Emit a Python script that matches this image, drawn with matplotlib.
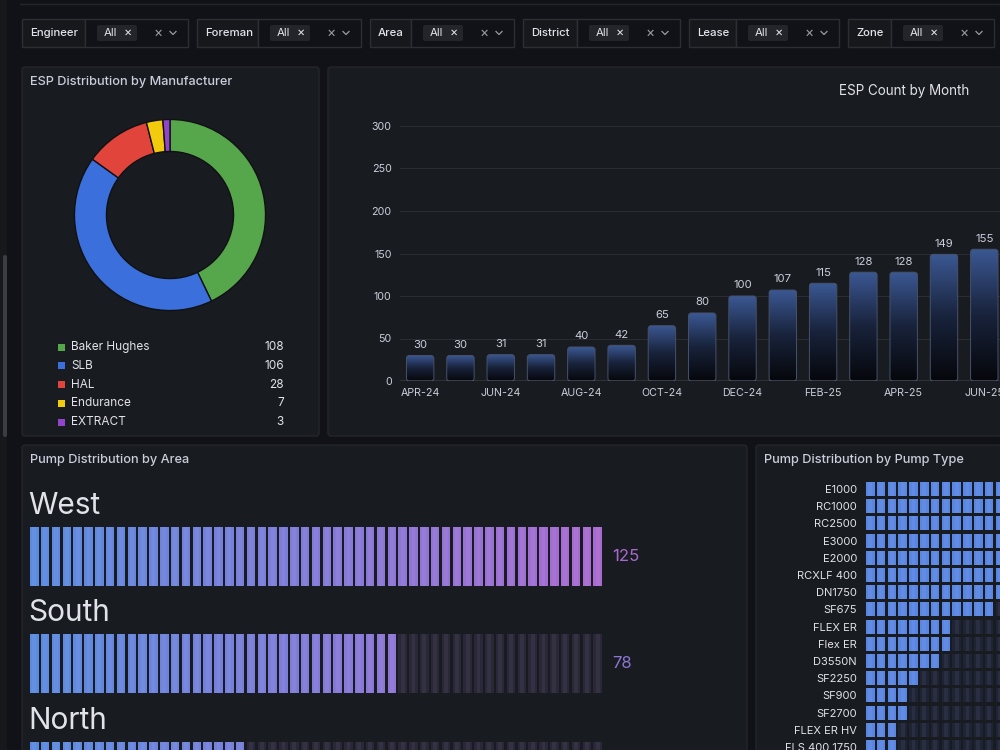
import numpy as np
import matplotlib
matplotlib.use("Agg")
import matplotlib.pyplot as plt
from matplotlib.patches import FancyBboxPatch, Rectangle
from matplotlib.colors import LinearSegmentedColormap

plt.rcParams['font.family'] = ['Inter', 'DejaVu Sans']

W, H = 1000, 750
BG = '#111217'
PANEL = '#181b1f'
BORDER = '#24262c'
TEXT = '#ccccdc'
BRIGHT = '#e2e2ea'

# ---- data ----
FILTERS = ['Engineer', 'Foreman', 'Area', 'District', 'Lease', 'Zone']
FILTER_VALUE = 'All'

MANUFACTURERS = ['Baker Hughes', 'SLB', 'HAL', 'Endurance', 'EXTRACT']
MANUF_COUNTS = [108, 106, 28, 7, 3]
MANUF_COLORS = ['#56a64b', '#3b6fdc', '#e0443b', '#f2cc0c', '#9345c9']

MONTHS = ['APR-24', 'MAY-24', 'JUN-24', 'JUL-24', 'AUG-24', 'SEP-24', 'OCT-24',
          'NOV-24', 'DEC-24', 'JAN-25', 'FEB-25', 'MAR-25', 'APR-25', 'MAY-25',
          'JUN-25']
ESP_COUNTS = [30, 30, 31, 31, 40, 42, 65, 80, 100, 107, 115, 128, 128, 149, 155]
Y_TICKS = [0, 50, 100, 150, 200, 250, 300]

AREAS = ['West', 'South', 'North']
AREA_COUNTS = [125, 78, 47]
AREA_MAX = 125
AREA_CELLS = 53

PUMP_TYPES = ['E1000', 'RC1000', 'RC2500', 'E3000', 'E2000', 'RCXLF 400',
              'DN1750', 'SF675', 'FLEX ER', 'Flex ER', 'D3550N', 'SF2250',
              'SF900', 'SF2700', 'FLEX ER HV', 'FLS 400 1750']
PUMP_COUNTS = [45, 38, 32, 28, 22, 18, 15, 12, 8, 8, 7, 5, 4, 4, 3, 3]


def rect(x0, y0, x1, y1):
    """pixel box (top-left origin) -> figure fraction box"""
    return [x0 / W, 1 - y1 / H, (x1 - x0) / W, (y1 - y0) / H]


fig = plt.figure(figsize=(10, 7.5), dpi=100, facecolor=BG)
bg = fig.add_axes([0, 0, 1, 1])
bg.set_xlim(0, W)
bg.set_ylim(H, 0)
bg.axis('off')

# left gutter + scrollbar, top rule
bg.add_patch(Rectangle((0, 0), 7, H, fc='#17181c', ec='none'))
bg.add_patch(FancyBboxPatch((3, 255), 4, 182, boxstyle='round,pad=0,rounding_size=2',
                            fc='#3c3d42', ec='none'))
bg.plot([20, W], [3.5, 3.5], color='#23252b', lw=1)


def panel(x0, y0, x1, y1, title=None):
    bg.add_patch(FancyBboxPatch((x0, y0), x1 - x0, y1 - y0,
                                boxstyle='round,pad=0,rounding_size=3',
                                fc=PANEL, ec=BORDER, lw=1))
    if title:
        bg.text(x0 + 8, y0 + 15, title, color=TEXT, fontsize=9.2,
                fontweight='medium', va='center')


# ---- filter bar ----
f_x = [22, 197, 370, 523, 689, 848]
f_lw = [63, 61, 41, 54, 47, 43]
f_vw = 103
for name, x0, lw_ in zip(FILTERS, f_x, f_lw):
    y0, y1 = 19, 47
    bg.add_patch(Rectangle((x0, y0), lw_, y1 - y0, fc='#16181c', ec='#2c2e34', lw=1))
    bg.add_patch(Rectangle((x0 + lw_, y0), f_vw, y1 - y0, fc=BG, ec='#2c2e34', lw=1))
    bg.text(x0 + 8, 33, name, color=BRIGHT, fontsize=8.2, fontweight='medium', va='center')
    cx = x0 + lw_ + 12
    bg.add_patch(FancyBboxPatch((cx, 25), 40, 16, boxstyle='round,pad=0,rounding_size=2',
                                fc='#23252b', ec='none'))
    bg.text(cx + 7, 33, FILTER_VALUE, color=BRIGHT, fontsize=8.2, va='center')
    bg.text(cx + 31, 33, '×', color=BRIGHT, fontsize=9, va='center', ha='center')
    xr = x0 + lw_ + f_vw
    bg.text(xr - 30, 33, '×', color='#9a9aa6', fontsize=10, va='center', ha='center')
    bg.plot([xr - 18, xr - 15, xr - 12], [31.5, 34.5, 31.5], color='#9a9aa6', lw=0.9)

# ---- panels ----
panel(22, 67, 319, 436, 'ESP Distribution by Manufacturer')
panel(328, 67, 1010, 436)
panel(22, 445, 747, 760, 'Pump Distribution by Area')
panel(756, 445, 1010, 760, 'Pump Distribution by Pump Type')

# ---- donut ----
ax_d = fig.add_axes(rect(73.5, 118.5, 266.5, 311.5))
ax_d.pie(MANUF_COUNTS, colors=MANUF_COLORS, startangle=90, counterclock=False,
         wedgeprops=dict(width=0.335, edgecolor='#101114', linewidth=1.0))
ax_d.set_xlim(-1.01, 1.01)
ax_d.set_ylim(-1.01, 1.01)
ax_d.set_aspect('equal')
ax_d.axis('off')

for i, (name, val, c) in enumerate(zip(MANUFACTURERS, MANUF_COUNTS, MANUF_COLORS)):
    y = 347 + i * 18.75
    bg.add_patch(Rectangle((58, y - 3.5), 7, 7, fc=c, ec='none'))
    bg.text(71, y, name, color=BRIGHT, fontsize=8.5, va='center')
    bg.text(284, y, str(val), color=BRIGHT, fontsize=8.5, va='center', ha='right')

# ---- ESP count by month ----
bg.text(904, 91, 'ESP Count by Month', color=BRIGHT, fontsize=9.7, ha='center', va='center')
ax_b = fig.add_axes(rect(400, 126, 1000, 381))
ax_b.set_facecolor('none')
x = np.arange(len(ESP_COUNTS))
bars = ax_b.bar(x, ESP_COUNTS, width=0.68, color='none')
grad = np.linspace(1, 0, 256).reshape(-1, 1)
bar_cmap = LinearSegmentedColormap.from_list('esp', ['#06070b', '#18223a', '#3b5893'])
for b in bars:
    x0, w, h = b.get_x(), b.get_width(), b.get_height()
    shape = FancyBboxPatch((x0, 0), w, h, boxstyle='round,pad=0,rounding_size=0.07',
                           mutation_aspect=47, fc='none', ec='#46516c', lw=0.7, zorder=4)
    ax_b.add_patch(shape)
    im = ax_b.imshow(grad, extent=[x0, x0 + w, 0, h], aspect='auto', cmap=bar_cmap,
                     vmin=0, vmax=1, zorder=3)
    im.set_clip_path(shape)
    b.set_visible(False)
    ax_b.annotate(str(int(h)), (x0 + w / 2, h), xytext=(0, 4), textcoords='offset points',
                  ha='center', va='bottom', color=TEXT, fontsize=8.2)
ax_b.set_xlim(-0.5, 14.39)
ax_b.set_ylim(0, 300)
ax_b.set_yticks(Y_TICKS)
ax_b.set_xticks(x[::2])
ax_b.set_xticklabels(MONTHS[::2])
ax_b.tick_params(colors=TEXT, labelsize=7.7, length=0)
ax_b.tick_params(axis='y', pad=6)
ax_b.tick_params(axis='x', pad=5)
for s in ax_b.spines.values():
    s.set_visible(False)
ax_b.grid(axis='y', color='#2a2c32', lw=0.8, zorder=0)
ax_b.set_axisbelow(True)
ax_b.axhline(0, color='#8e9099', lw=1, zorder=5)

# ---- pump distribution by area (bar gauge) ----
area_cmap = LinearSegmentedColormap.from_list('area', ['#5b8be0', '#a96ad0'])
cell_colors = area_cmap(np.linspace(0, 1, AREA_CELLS))
idx = np.arange(AREA_CELLS)
for i, (name, val) in enumerate(zip(AREAS, AREA_COUNTS)):
    top = 527 + i * 107.3
    bg.text(28, top - 21, name, fontsize=21.5, color=BRIGHT, va='center')
    ax = fig.add_axes(rect(30, top, 602, top + 59))
    lit = int(np.ceil(val / AREA_MAX * AREA_CELLS))
    colors = [cell_colors[j] if j < lit else '#2a2838' for j in idx]
    ax.bar(idx, np.ones(AREA_CELLS), width=0.79, color=colors, edgecolor='none')
    # soft highlight down the middle of each cell
    ax.bar(idx, np.ones(AREA_CELLS), width=0.36, color='white', alpha=0.05, edgecolor='none')
    ax.set_xlim(-0.395, AREA_CELLS - 0.605)
    ax.set_ylim(0, 1)
    ax.axis('off')
    if top + 29.5 < H:
        bg.text(612, top + 29.5, str(val), color=area_cmap(val / AREA_MAX), fontsize=12,
                va='center')

# ---- pump distribution by pump type ----
ax_p = fig.add_axes(rect(862, 480, 1000, 750))
ax_p.set_facecolor('none')
n_cols = max(PUMP_COUNTS)
cols = np.arange(n_cols)
for r, v in enumerate(PUMP_COUNTS):
    colors = ['#5a86e3' if c < v else '#1e2436' for c in cols]
    ax_p.bar(cols, 0.81, bottom=r - 0.405, width=0.79, color=colors, edgecolor='none')
    ax_p.bar(cols, 0.81, bottom=r - 0.405, width=0.36, color='white', alpha=0.05,
             edgecolor='none')
ax_p.set_xlim(-0.765, 12.013)
ax_p.set_ylim(15.17, -0.523)
ax_p.set_yticks(range(len(PUMP_TYPES)))
ax_p.set_yticklabels(PUMP_TYPES)
ax_p.set_xticks([])
ax_p.tick_params(axis='y', colors=BRIGHT, labelsize=8, length=0, pad=3.6)
for s in ax_p.spines.values():
    s.set_visible(False)

fig.savefig('out.png', dpi=100, facecolor=BG)
